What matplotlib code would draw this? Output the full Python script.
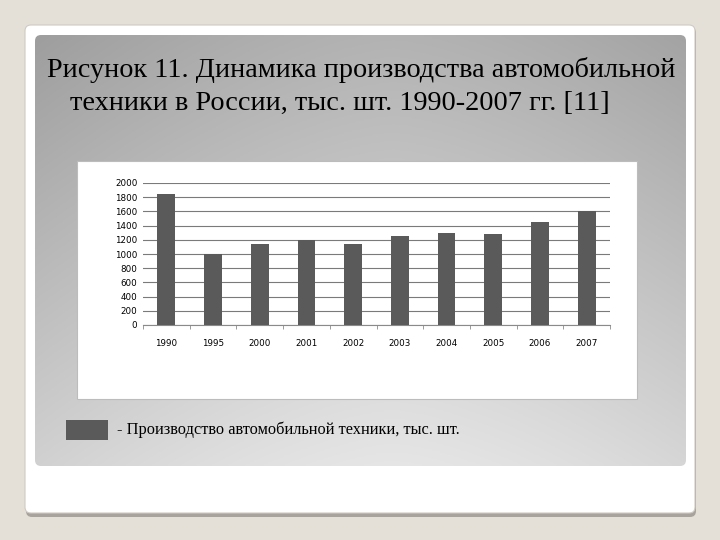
import matplotlib.pyplot as plt
import numpy as np
from matplotlib.patches import FancyBboxPatch, Rectangle

# production of cars, thousand units
years = ["1990", "1995", "2000", "2001", "2002", "2003", "2004", "2005", "2006", "2007"]
values = [1840, 1000, 1140, 1200, 1140, 1250, 1290, 1280, 1450, 1600]
y_ticks = [0, 200, 400, 600, 800, 1000, 1200, 1400, 1600, 1800, 2000]

title_1 = "Рисунок 11. Динамика производства автомобильной"
title_2 = "техники в России, тыс. шт. 1990-2007 гг. [11]"
legend_text = "- Производство автомобильной техники, тыс. шт."

fig = plt.figure(figsize=(7.2, 5.4), dpi=100, facecolor="#e5e0d7")

# slide background, in pixel coords
bg = fig.add_axes([0, 0, 1, 1])
bg.set_xlim(0, 720)
bg.set_ylim(540, 0)
bg.axis("off")

# white slide with grey bottom edge
bg.add_patch(FancyBboxPatch((26, 27), 670, 490, boxstyle="round,pad=0,rounding_size=6",
                            facecolor="#a8a39c", edgecolor="none"))
bg.add_patch(FancyBboxPatch((25, 25), 670, 488, boxstyle="round,pad=0,rounding_size=6",
                            facecolor="white", edgecolor="#cfcac2", lw=0.8))

# grey gradient panel
panel = FancyBboxPatch((35, 35), 651, 431, boxstyle="round,pad=0,rounding_size=6",
                       facecolor="none", edgecolor="none")
bg.add_patch(panel)
yy, xx = np.mgrid[0:1:200j, 0:1:300j]
shade = 0.70 + 0.20 * yy - 0.10 * np.abs(xx - 0.55) ** 1.5 * 2
shade = np.clip(shade, 0, 1)
img = bg.imshow(np.dstack([shade] * 3), extent=(35, 686, 466, 35), aspect="auto", zorder=1)
img.set_clip_path(panel)

# white chart box
bg.add_patch(Rectangle((77, 161), 560, 238, facecolor="white", edgecolor="#bcbcbc",
                       lw=0.8, zorder=2))

# title
serif = ["Liberation Serif", "DejaVu Serif"]
bg.text(47, 70, title_1, family=serif, fontsize=20.3, va="center", ha="left", zorder=3)
bg.text(70, 103, title_2, family=serif, fontsize=20.3, va="center", ha="left", zorder=3)

# legend
bg.add_patch(Rectangle((66, 420), 42, 20, facecolor="#5a5a5a", edgecolor="none", zorder=3))
bg.text(117, 430, legend_text, family=serif, fontsize=11.8, va="center", ha="left", zorder=3)

# bar chart
ax = fig.add_axes([143 / 720, 1 - 325 / 540, (610 - 143) / 720, (325 - 183) / 540])
ax.set_facecolor("none")
x = np.arange(len(years))
ax.bar(x, values, width=0.38, color="#5a5a5a", zorder=3)
ax.set_xlim(-0.5, len(years) - 0.5)
ax.set_ylim(0, 2000)
ax.set_yticks(y_ticks)
ax.set_yticklabels([str(v) for v in y_ticks], fontsize=6.3)
ax.yaxis.grid(True, color="#7a7a7a", lw=0.8)
ax.set_axisbelow(True)
ax.tick_params(axis="y", length=0, pad=4)
ax.set_xticks(x)
ax.set_xticklabels(years, fontsize=6.3)
ax.tick_params(axis="x", length=0, pad=10)
ax.set_xticks(np.arange(len(years) + 1) - 0.5, minor=True)
ax.tick_params(axis="x", which="minor", length=3, color="#8a8a8a")
for side in ["top", "right", "left"]:
    ax.spines[side].set_visible(False)
ax.spines["bottom"].set_color("#8a8a8a")

fig.savefig("out.png", dpi=100, facecolor=fig.get_facecolor())
